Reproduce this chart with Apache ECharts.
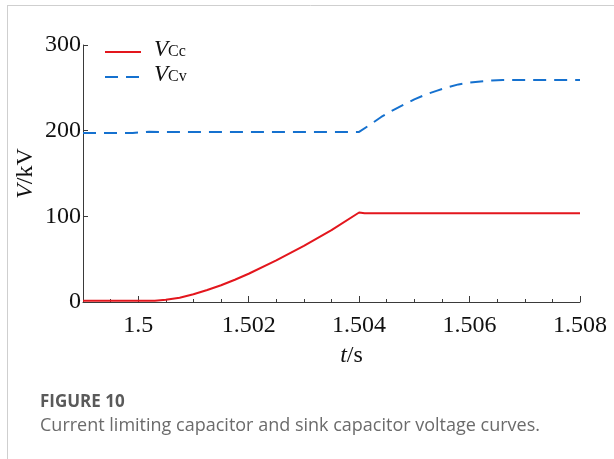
<!DOCTYPE html>
<html>
<head>
<meta charset="utf-8">
<script src="https://cdn.jsdelivr.net/npm/echarts@6/dist/echarts.min.js"></script>
<style>
html,body{margin:0;padding:0;background:#fff;}
#chart{width:614px;height:459px;}
</style>
</head>
<body>
<div id="chart"></div>
<script>
// ---- data ----
const tCc = [1.499, 1.5, 1.5003, 1.5005, 1.50075, 1.501, 1.50125, 1.5015, 1.50175, 1.502, 1.5025, 1.503, 1.5035, 1.504, 1.5041, 1.508];
const vCc = [1.5, 1.5, 1.5, 2.5, 5, 9, 14, 19.5, 26, 33, 48.5, 65.5, 84, 104.5, 103.5, 103.5];
const tCv = [1.499, 1.4999, 1.5002, 1.5004, 1.504, 1.5042, 1.5044, 1.5046, 1.5048, 1.505, 1.5052, 1.5054, 1.5056, 1.5058, 1.506, 1.5062, 1.5064, 1.5066, 1.508];
const vCv = [197.3, 197.3, 198.8, 198.5, 198.5, 207, 216, 223.5, 230, 236.5, 242, 246.5, 250.5, 254, 256, 257.5, 258.5, 259, 259];
const xTickLabels = [1.5, 1.502, 1.504, 1.506, 1.508];
const yTickLabels = [0, 100, 200, 300];
const captionTitle = 'FIGURE 10';
const captionText = 'Current limiting capacitor and sink capacitor voltage curves.';

const serif = '"Liberation Serif", "Times New Roman", serif';
const axisColor = '#3a3a3a';
const redColor = '#E3161D';
const blueColor = '#1571CF';
const dashPattern = [13, 8];

const chart = echarts.init(document.getElementById('chart'), null, {renderer: 'canvas'});
const option = {
  backgroundColor: '#fff',
  animation: false,
  grid: {left: 83, right: 34, top: 45, bottom: 157, containLabel: false},
  legend: {
    orient: 'vertical',
    left: 104,
    top: 38,
    itemWidth: 36,
    itemHeight: 14,
    itemGap: 2,
    padding: 0,
    itemStyle: {opacity: 0},
    data: [
      {name: 'VCc', itemStyle: {opacity: 0}, lineStyle: {color: redColor, width: 2, type: 'solid'}},
      {name: 'VCv', itemStyle: {opacity: 0}, lineStyle: {color: blueColor, width: 2, type: dashPattern}}
    ],
    formatter: function (name) {
      return '{v|V}{s|' + name.slice(1) + '}';
    },
    textStyle: {
      rich: {
        v: {fontFamily: serif, fontStyle: 'italic', fontSize: 23, color: '#111', padding: [0, 0, 5, 8]},
        s: {fontFamily: serif, fontSize: 16, color: '#111'}
      }
    }
  },
  xAxis: [{
    type: 'value',
    min: 1.499,
    max: 1.508,
    interval: 0.0005,
    position: 'bottom',
    axisLine: {show: true, onZero: false, lineStyle: {color: axisColor, width: 1}},
    axisTick: {show: true, inside: true, length: 3, lineStyle: {color: axisColor}},
    axisLabel: {show: false},
    splitLine: {show: false},
    name: '{i|t}{r|/s}',
    nameLocation: 'middle',
    nameGap: 42,
    nameTextStyle: {
      padding: [0, 0, 0, 40],
      rich: {
        i: {fontFamily: serif, fontStyle: 'italic', fontSize: 24, color: '#111'},
        r: {fontFamily: serif, fontSize: 24, color: '#111'}
      }
    }
  }, {
    type: 'value',
    min: 1.499,
    max: 1.508,
    position: 'bottom',
    axisLine: {show: false, onZero: false},
    axisTick: {show: true, inside: true, length: 6, customValues: xTickLabels, lineStyle: {color: axisColor}},
    axisLabel: {show: true, customValues: xTickLabels, margin: 12, fontFamily: serif, fontSize: 24, color: '#111',
      formatter: function (v) { return String(+v.toFixed(3)); }},
    splitLine: {show: false}
  }],
  yAxis: {
    type: 'value',
    min: 0,
    max: 300,
    interval: 100,
    axisLine: {show: true, onZero: false, lineStyle: {color: axisColor, width: 1}},
    axisTick: {show: true, inside: true, length: 5, lineStyle: {color: axisColor}},
    axisLabel: {margin: 2, fontFamily: serif, fontSize: 24, color: '#111'},
    splitLine: {show: false},
    name: '{i|V}{r|/kV}',
    nameLocation: 'middle',
    nameRotate: 90,
    nameGap: 45,
    nameMoveOverlap: false,
    nameTextStyle: {
      rich: {
        i: {fontFamily: serif, fontStyle: 'italic', fontSize: 24, color: '#111'},
        r: {fontFamily: serif, fontSize: 24, color: '#111'}
      }
    }
  },
  series: [{
    name: 'VCc',
    type: 'line',
    xAxisIndex: 0,
    data: tCc.map((t, i) => [t, vCc[i]]),
    symbol: 'none',
    lineStyle: {color: redColor, width: 2},
    itemStyle: {color: redColor},
    z: 3
  }, {
    name: 'VCv',
    type: 'line',
    xAxisIndex: 0,
    data: tCv.map((t, i) => [t, vCv[i]]),
    symbol: 'none',
    lineStyle: {color: blueColor, width: 2, type: dashPattern},
    itemStyle: {color: blueColor},
    z: 3
  }],
  graphic: [
    {type: 'line', shape: {x1: 7, y1: 5.5, x2: 614, y2: 5.5}, style: {stroke: '#cfcfcf', lineWidth: 1}, silent: true},
    {type: 'line', shape: {x1: 7.5, y1: 5, x2: 7.5, y2: 459}, style: {stroke: '#cfcfcf', lineWidth: 1}, silent: true},
    {type: 'text', left: 40, top: 394, style: {text: captionTitle, font: 'bold 17px "Open Sans", sans-serif', fill: '#5a5a5a'}, silent: true},
    {type: 'text', left: 40, top: 417, style: {text: captionText, font: '18px "Open Sans", sans-serif', fill: '#6b6b6b'}, silent: true}
  ]
};
chart.setOption(option);
</script>
</body>
</html>
